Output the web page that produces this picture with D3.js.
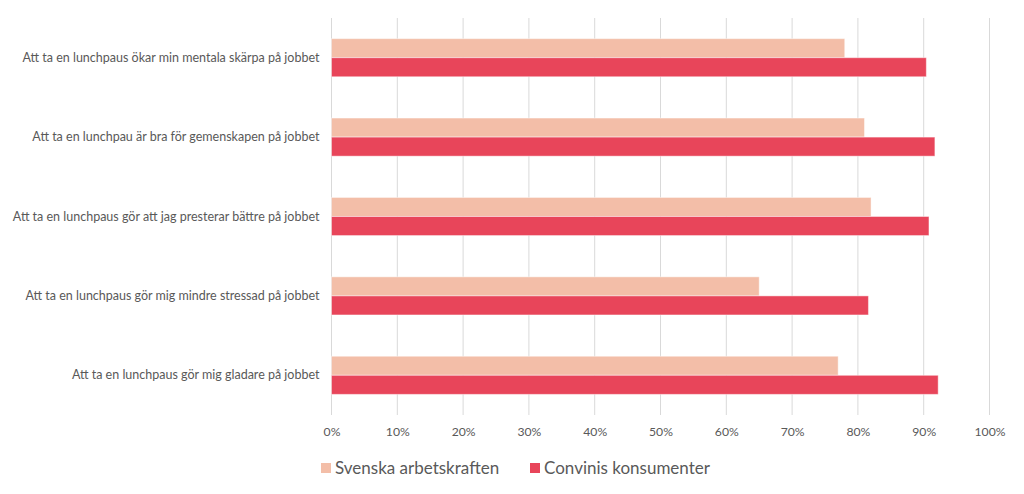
<!DOCTYPE html>
<html><head><meta charset="utf-8">
<script src="https://cdn.jsdelivr.net/npm/d3@7"></script>
<style>body{margin:0;background:#fff;} svg{display:block;}</style>
</head><body>
<svg id="chart" width="1024" height="494"></svg>
<script>
const categories = [
  "Att ta en lunchpaus ökar min mentala skärpa på jobbet",
  "Att ta en lunchpau är bra för gemenskapen på jobbet",
  "Att ta en lunchpaus gör att jag presterar bättre på jobbet",
  "Att ta en lunchpaus gör mig mindre stressad på jobbet",
  "Att ta en lunchpaus gör mig gladare på jobbet"
];
const seriesNames = ["Svenska arbetskraften", "Convinis konsumenter"];
const svenska = [78, 81, 82, 65, 77];
const convini = [90.4, 91.7, 90.8, 81.6, 92.2];
const ticks = [0, 10, 20, 30, 40, 50, 60, 70, 80, 90, 100];
const colors = ["#F3BEA8", "#E8455A"];

(function () {
const svg = d3.select("#chart");
const font = "Lato, 'Open Sans', sans-serif";
const mLeft = 331.5, mRight = 989.5, mTop = 18, mBottom = 415;

const x = d3.scaleLinear().domain([0, 100]).range([mLeft, mRight]);
const y = d3.scaleBand().domain(categories).range([mTop, mBottom]).paddingInner(0.52).paddingOuter(0.26);
const ySub = d3.scaleBand().domain(seriesNames).range([0, y.bandwidth()]);

// gridlines
svg.append("g").selectAll("line").data(ticks).join("line")
  .attr("x1", d => x(d)).attr("x2", d => x(d))
  .attr("y1", mTop).attr("y2", mBottom)
  .attr("stroke", "#D9D9D9").attr("stroke-width", 1);

const data = categories.map((c, i) => ({c, vals: [svenska[i], convini[i]]}));
const g = svg.append("g");
data.forEach(d => {
  d.vals.forEach((v, j) => {
    g.append("rect")
      .attr("x", x(0))
      .attr("y", y(d.c) + ySub(seriesNames[j]))
      .attr("width", x(v) - x(0))
      .attr("height", ySub.bandwidth())
      .attr("fill", colors[j])
      .attr("stroke", "#fff").attr("stroke-opacity", 0.45).attr("stroke-width", 1);
  });
});

// x axis labels
const xAxis = d3.axisBottom(x).tickValues(ticks).tickFormat(d => d + "%").tickSize(0).tickPadding(0);
const xg = svg.append("g").attr("transform", `translate(0,${427})`).call(xAxis);
xg.select(".domain").remove();
xg.selectAll("text").attr("font-family", font).attr("font-size", 12.2).attr("fill", "#595959");

// y axis labels
const yAxis = d3.axisLeft(y).tickSize(0).tickPadding(12);
const yg = svg.append("g").attr("transform", `translate(${mLeft},0)`).call(yAxis);
yg.select(".domain").remove();
yg.selectAll("text").attr("font-family", font).attr("font-size", 12.5).attr("fill", "#595959");

// legend
const legendItems = [{name: seriesNames[0], x: 321, c: colors[0]}, {name: seriesNames[1], x: 530, c: colors[1]}];
const lg = svg.append("g");
legendItems.forEach(it => {
  lg.append("rect").attr("x", it.x).attr("y", 463).attr("width", 10).attr("height", 10).attr("fill", it.c);
  lg.append("text").attr("x", it.x + 14).attr("y", 468).attr("dy", "0.35em")
    .attr("font-family", font).attr("font-size", 17).attr("fill", "#595959").text(it.name);
});
})();
</script>
</body></html>
